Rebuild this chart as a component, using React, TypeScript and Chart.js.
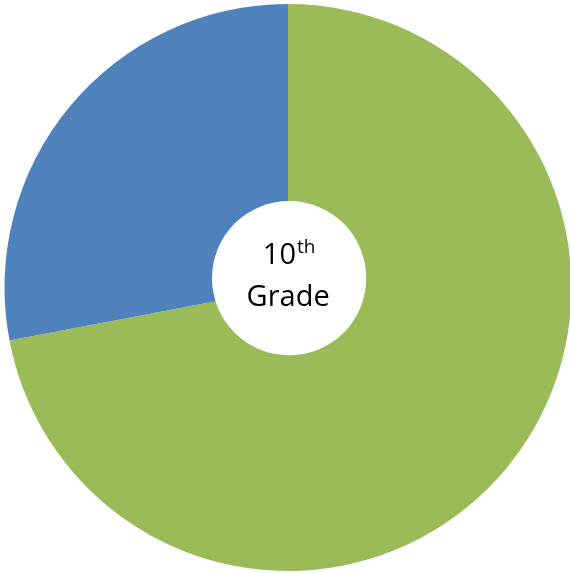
import React, { useEffect, useRef } from "react";
import { Chart, registerables } from "chart.js";

Chart.register(...registerables);

const labels = ["Group A", "Group B"];
const values = [72, 28];
const colors = ["#9BBB59", "#4F81BD"];
const centerMain = "10";
const centerSup = "th";
const centerLine2 = "Grade";

const holePlugin = {
  id: "holePlugin",
  afterDatasetsDraw(chart: any) {
    const meta = chart.getDatasetMeta(0);
    const arc = meta.data[0];
    if (!arc) return;
    const { x, y, outerRadius } = arc.getProps(["x", "y", "outerRadius"], true);
    const ctx = chart.ctx;
    const hx = x + outerRadius * 0.004;
    const hy = y - outerRadius * 0.033;
    const hr = outerRadius * 0.272;
    ctx.save();
    ctx.beginPath();
    ctx.arc(hx, hy, hr, 0, Math.PI * 2);
    ctx.fillStyle = "#FFFFFF";
    ctx.fill();
    ctx.fillStyle = "#000000";
    ctx.textBaseline = "alphabetic";
    ctx.textAlign = "left";
    const mainFont = "29px 'Open Sans', sans-serif";
    const supFont = "19px 'Open Sans', sans-serif";
    ctx.font = mainFont;
    const wMain = ctx.measureText(centerMain).width;
    ctx.font = supFont;
    const wSup = ctx.measureText(centerSup).width;
    const total = wMain + wSup + 1;
    const sx = hx - total / 2;
    ctx.font = mainFont;
    ctx.fillText(centerMain, sx, hy - 14);
    ctx.font = supFont;
    ctx.fillText(centerSup, sx + wMain + 1, hy - 25);
    ctx.font = mainFont;
    ctx.textAlign = "center";
    ctx.fillText(centerLine2, hx - 1, hy + 28);
    ctx.restore();
  },
};

export default function App() {
  const ref = useRef<HTMLCanvasElement | null>(null);
  useEffect(() => {
    if (!ref.current) return;
    const chart = new Chart(ref.current, {
      type: "pie",
      data: {
        labels,
        datasets: [
          {
            data: values,
            backgroundColor: colors,
            borderWidth: 0,
          },
        ],
      },
      options: {
        animation: false,
        responsive: false,
        maintainAspectRatio: false,
        layout: { padding: 0 },
        plugins: {
          legend: { display: false },
          tooltip: { enabled: false },
        },
      },
      plugins: [holePlugin],
    });
    return () => chart.destroy();
  }, []);
  return (
    <div style={{ position: "fixed", left: 0, top: 0, width: 570, height: 573, background: "#fff", overflow: "hidden" }}>
      <canvas
        ref={ref}
        width={568}
        height={567}
        style={{ position: "absolute", left: 4, top: 4, width: 568, height: 567 }}
      />
    </div>
  );
}
